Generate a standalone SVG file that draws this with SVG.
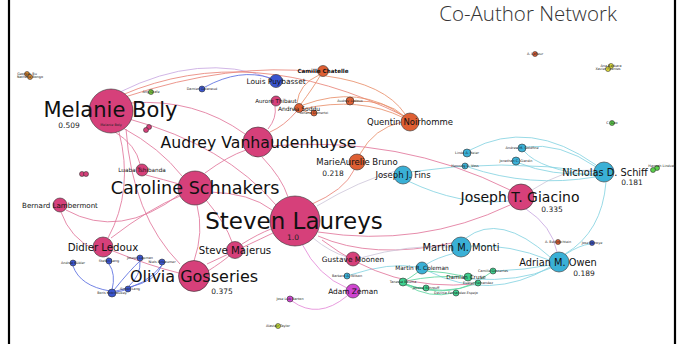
<svg xmlns="http://www.w3.org/2000/svg" width="682" height="344" viewBox="0 0 682 344">
<style>
.e{fill:none;stroke-width:0.85}
.pp{stroke:#e2779c}
.po{stroke:#e88479}
.oo{stroke:#e9906c}
.bb{stroke:#5a6ee0}
.cc{stroke:#86d3e2}
.pc{stroke:#cfc8da}
.gg{stroke:#5fd6a0}
.pm{stroke:#e48ad8}
.lv{stroke:#c9a9e2}
.n{stroke:#333;stroke-width:0.6}
.pk{fill:#d6407a}
.or{fill:#de5f33}
.cy{fill:#3ab0d6}
.bl{fill:#3a55d0}
.gt{fill:#3ecf8e}
.gb{fill:#5ad14a}
.mg{fill:#cf45d0}
.ye{fill:#e6e23c}
.yg{fill:#c7d93a}
.gs{fill:#7acc3e}
.ob{fill:#e08a30}
text{font-family:"DejaVu Sans",Verdana,sans-serif;fill:#111;text-anchor:middle}
.t{font-size:3.4px;fill:#222}
.v{font-size:7.5px;fill:#222}
</style>
<rect width="682" height="344" fill="#fff"/>
<line x1="9" y1="0" x2="9" y2="344" stroke="#000" stroke-width="2.2"/>
<line x1="675" y1="0" x2="675" y2="344" stroke="#000" stroke-width="2.2"/>
<text x="528" y="21" style="font-family:'Open Sans','Liberation Sans',sans-serif;font-size:20.5px;font-weight:300;fill:#333">Co-Author Network</text>

<g id="edges">
<path class="e lv" d="M120,92 Q200,52 270,78"/>
<path class="e po" d="M122,95 Q250,40 404,116"/>
<path class="e po" d="M125,97 Q230,62 318,72"/>
<path class="e pp" d="M131,103 Q195,98 245,134"/>
<path class="e pp" d="M129,119 Q225,145 276,205"/>
<path class="e pp" d="M123,128 Q160,148 182,176"/>
<path class="e pp" d="M115,132 Q136,145 140,164"/>
<path class="e pp" d="M119,132 Q134,190 108,238"/>
<path class="e pp" d="M126,129 Q132,215 180,264"/>
<path class="e pp" d="M210,192 Q250,193 272,210"/>
<path class="e pp" d="M205,173 Q228,156 246,150"/>
<path class="e pp" d="M262,157 Q282,178 288,197"/>
<path class="e pp" d="M207,264 Q250,244 273,233"/>
<path class="e pp" d="M242,244 Q258,234 271,229"/>
<path class="e pp" d="M194,261 Q204,232 197,205"/>
<path class="e pp" d="M113,251 Q150,266 179,273"/>
<path class="e pp" d="M111,238 Q150,208 180,196"/>
<path class="e pp" d="M66,210 Q120,240 180,194"/>
<path class="e pp" d="M61,212 Q70,238 95,250"/>
<path class="e pp" d="M146,175 Q165,180 179,184"/>
<path class="e pp" d="M270,146 Q400,135 510,190"/>
<path class="e pp" d="M318,232 Q420,248 510,205"/>
<path class="e pp" d="M318,236 Q372,260 452,243"/>
<path class="e pp" d="M206,200 Q226,224 232,242"/>
<path class="e pp" d="M208,271 Q222,262 229,256"/>
<path class="e pp" d="M275,106 Q277,118 268,129"/>
<path class="e pm" d="M302,244 Q318,276 347,288"/>
<path class="e pm" d="M347,296 Q318,320 292,301"/>
<path class="e pc" d="M313,238 Q330,252 347,257"/>
<path class="e po" d="M310,205 Q345,190 354,170"/>
<path class="e oo" d="M360,154 Q374,128 402,122"/>
<path class="e oo" d="M301,104 Q313,88 320,76"/>
<path class="e oo" d="M297,103 Q299,84 319,75"/>
<path class="e oo" d="M303,105 Q360,84 403,116"/>
<path class="e oo" d="M302,109 Q360,96 404,118"/>
<path class="e oo" d="M353,101 Q387,100 404,116"/>
<path class="e oo" d="M326,76 Q385,84 405,114"/>
<path class="e po" d="M296,112 Q284,126 270,132"/>
<path class="e oo" d="M302,110 Q308,113 311,113"/>
<path class="e bb" d="M205,87 Q240,68 270,78"/>
<path class="e bb" d="M110,291 Q80,286 73,266"/>
<path class="e bb" d="M112,290 Q116,274 109,264"/>
<path class="e bb" d="M114,290 Q130,270 140,261"/>
<path class="e bb" d="M116,291 Q146,286 162,265"/>
<path class="e bb" d="M129,286 Q141,275 140,261"/>
<path class="e bb" d="M116,292 Q122,291 125,290"/>
<path class="e bb" d="M130,287 Q156,281 162,265"/>
<path class="e lv" d="M109,258 Q106,255 104,257"/>
<path class="e pc" d="M317,206 Q360,180 396,171"/>
<path class="e cc" d="M408,181 Q460,206 508,201"/>
<path class="e pc" d="M532,190 Q565,168 594,170"/>
<path class="e cc" d="M596,165 Q530,118 470,150"/>
<path class="e cc" d="M596,167 Q560,142 525,147"/>
<path class="e cc" d="M595,174 Q550,176 519,163"/>
<path class="e cc" d="M595,177 Q530,188 468,167"/>
<path class="e cc" d="M595,172 Q500,158 410,172"/>
<path class="e cc" d="M606,182 Q602,232 565,254"/>
<path class="e cc" d="M524,151 Q540,170 596,176"/>
<path class="e cc" d="M549,260 Q510,244 471,246"/>
<path class="e cc" d="M550,257 Q500,212 466,238"/>
<path class="e cc" d="M550,267 Q490,302 428,271"/>
<path class="e cc" d="M455,253 Q436,258 427,264"/>
<path class="e cc" d="M566,254 Q580,245 590,244"/>
<path class="e lv" d="M526,209 Q552,226 557,252"/>
<path class="e pc" d="M360,258 Q410,244 451,247"/>
<path class="e cc" d="M350,275 Q390,262 417,267"/>
<path class="e gg" d="M406,281 Q435,275 462,277"/>
<path class="e gg" d="M406,284 Q415,289 423,288"/>
<path class="e gg" d="M406,285 Q430,299 453,293"/>
<path class="e gg" d="M406,285 Q445,296 475,284"/>
<path class="e gg" d="M406,284 Q452,302 490,273"/>
<path class="e gg" d="M418,272 Q410,278 406,280"/>
<path class="e gg" d="M427,271 Q445,272 463,276"/>
<path class="e cc" d="M471,279 Q520,282 551,268"/>
<path class="e cc" d="M496,271 Q525,270 550,265"/>
<path class="e pp" d="M322,240 Q390,292 474,284"/>
</g>

<g id="node-tiny-orange-1"><circle class="n ob" cx="27" cy="74" r="2.5"/><circle class="n ob" cx="30" cy="77" r="2.5"/><text class="t" x="27" y="75">Georges Bu</text><text class="t" x="30" y="78">Nathalie Bongo</text></g>
<g id="node-tiny-green-1"><circle class="n gs" cx="151" cy="92" r="2.5"/><text class="t" x="151" y="93">Ang Grafe</text></g>
<g id="node-damien"><circle class="n bl" cx="202" cy="89" r="3"/><text class="t" x="202" y="90">Damien Galanaud</text></g>
<g id="node-tiny-orange-2"><circle class="n or" cx="535" cy="54" r="2.5"/><text class="t" x="535" y="55">A. Lafleur</text></g>
<g id="node-tiny-yellow"><circle class="n ye" cx="611" cy="66" r="2.5"/><circle class="n ye" cx="608" cy="69" r="2.5"/><text class="t" x="611" y="67">Ana Barbara</text><text class="t" x="608" y="70">Xavier Fuentes</text></g>
<g id="node-tiny-green-2"><circle class="n gb" cx="612" cy="123" r="2.5"/><text class="t" x="612" y="124">C. Gao</text></g>
<g id="node-tiny-green-3"><circle class="n gb" cx="657" cy="168" r="2.5"/><circle class="n gb" cx="653" cy="170" r="2.5"/><text class="t" x="662" y="167">Hannah Lindvall</text></g>
<g id="node-tiny-pink-1"><circle class="n pk" cx="149" cy="127" r="2.5"/><circle class="n pk" cx="146" cy="130" r="2.5"/></g>
<g id="node-tiny-pink-2"><circle class="n pk" cx="82" cy="174" r="2.5"/><circle class="n pk" cx="86" cy="174" r="2.5"/></g>
<g id="node-demertzi"><circle class="n or" cx="314" cy="113" r="3"/><text class="t" x="314" y="114">Athena Demertzi</text></g>
<g id="node-ledoux-a"><circle class="n or" cx="350" cy="101" r="4"/><text class="t" x="350" y="102">Audrey Ledoux</text></g>
<g id="node-soddu"><circle class="n or" cx="299" cy="108" r="4.5"/><text x="299" y="111" style="font-size:6px">Andrea Soddu</text></g>
<g id="node-camille"><circle class="n or" cx="323" cy="71" r="5.5"/><text x="323" y="73" style="font-size:5.6px;font-weight:bold">Camille Chatelle</text></g>
<g id="node-puybasset"><circle class="n bl" cx="276" cy="81" r="6.5"/><text x="276" y="84" style="font-size:7.4px">Louis Puybasset</text></g>
<g id="node-thibaut"><circle class="n pk" cx="276" cy="101" r="5"/><text x="276" y="103" style="font-size:5.6px">Aurore Thibaut</text></g>
<g id="node-linda"><circle class="n cy" cx="467" cy="153" r="4"/><text class="t" x="467" y="154">Linda A. Heier</text></g>
<g id="node-henning"><circle class="n cy" cx="465" cy="166" r="3"/><text class="t" x="465" y="167">Henning U. Voss</text></g>
<g id="node-goldfine"><circle class="n cy" cx="522" cy="148" r="4"/><text class="t" x="522" y="149">Andrew M. Goldfine</text></g>
<g id="node-jonathan"><circle class="n cy" cx="516" cy="161" r="4"/><text class="t" x="516" y="162">Jonathan C. Giardin</text></g>
<g id="node-blue-1"><circle class="n bl" cx="73" cy="263" r="3"/><text class="t" x="73" y="264">Andrea Kübler</text></g>
<g id="node-blue-2"><circle class="n bl" cx="109" cy="261" r="3"/><text class="t" x="109" y="262">Stefan Lang</text></g>
<g id="node-blue-3"><circle class="n bl" cx="140" cy="258" r="3"/><text class="t" x="140" y="259">Joseph Lapman</text></g>
<g id="node-blue-4"><circle class="n bl" cx="162" cy="262" r="3"/><text class="t" x="162" y="263">Niels Birbaumer</text></g>
<g id="node-blue-5"><circle class="n bl" cx="128" cy="289" r="3"/><text class="t" x="130" y="290">Simon Lang</text></g>
<g id="node-blue-6"><circle class="n bl" cx="112" cy="293" r="4"/><text class="t" x="112" y="294">Boris Kotchoubey</text></g>
<g id="node-barbara"><circle class="n cy" cx="347" cy="276" r="3"/><text class="t" x="347" y="277">Barbara A. Wilson</text></g>
<g id="node-jose"><circle class="n mg" cx="290" cy="299" r="3"/><text class="t" x="290" y="300">Jose Luis Barton</text></g>
<g id="node-taylor"><circle class="n yg" cx="278" cy="326" r="2.5"/><text class="t" x="278" y="327">Alastair Taylor</text></g>
<g id="node-tanessa"><circle class="n gt" cx="403" cy="282" r="4"/><text class="t" x="403" y="283">Tanessa Bouma</text></g>
<g id="node-green-a"><circle class="n gt" cx="426" cy="288" r="3"/><text class="t" x="426" y="289">Jessica Schrouff</text></g>
<g id="node-green-b"><circle class="n gt" cx="456" cy="293" r="3"/><text class="t" x="456" y="294">Davinia Fernandez-Espejo</text></g>
<g id="node-green-c"><circle class="n gt" cx="478" cy="283" r="3"/><text class="t" x="478" y="284">Evelyn Fernandez</text></g>
<g id="node-green-d"><circle class="n gt" cx="493" cy="271" r="3"/><text class="t" x="493" y="272">Camille Gosseries</text></g>
<g id="node-cruse"><circle class="n gt" cx="468" cy="277" r="4"/><text x="466" y="279" style="font-size:5.6px">Damian Cruse</text></g>
<g id="node-tiny-orange-3"><circle class="n or" cx="558" cy="242" r="2.5"/><text class="t" x="558" y="243">A. Bekinschtein</text></g>
<g id="node-tiny-blue"><circle class="n bl" cx="592" cy="243" r="2.5"/><text class="t" x="592" y="244">Jose Vanoye</text></g>
<g id="node-coleman"><circle class="n cy" cx="422" cy="268" r="6"/><text x="422" y="270" style="font-size:5.8px">Martin R. Coleman</text></g>
<g id="node-luaba"><circle class="n pk" cx="142" cy="170" r="6"/><text x="142" y="172" style="font-size:5.7px">Luaba Tshibanda</text></g>
<g id="node-bernard"><circle class="n pk" cx="60" cy="205" r="7"/><text x="60" y="208" style="font-size:7.1px">Bernard Lambermont</text></g>
<g id="node-gustave"><circle class="n pk" cx="353" cy="259" r="7"/><text x="353" y="262" style="font-size:7.4px">Gustave Moonen</text></g>
<g id="node-zeman"><circle class="n mg" cx="353" cy="291" r="7"/><text x="353" y="294" style="font-size:7.4px">Adam Zeman</text></g>
<g id="node-bruno"><circle class="n or" cx="357" cy="162" r="8"/><text x="357" y="165" style="font-size:8.5px">MarieAurelie Bruno</text><text class="v" x="333" y="176">0.218</text></g>
<g id="node-fins"><circle class="n cy" cx="403" cy="175" r="9"/><text x="403" y="178" style="font-size:8.5px">Joseph J. Fins</text></g>
<g id="node-quentin"><circle class="n or" cx="410" cy="122" r="9"/><text x="410" y="125" style="font-size:8.5px">Quentin Noirhomme</text></g>
<g id="node-majerus"><circle class="n pk" cx="235" cy="250" r="8.5"/><text x="235" y="254" style="font-size:10.2px">Steve Majerus</text></g>
<g id="node-didier"><circle class="n pk" cx="103" cy="247" r="10"/><text x="103" y="251" style="font-size:10.2px">Didier Ledoux</text></g>
<g id="node-monti"><circle class="n cy" cx="461" cy="247" r="10"/><text x="461" y="251" style="font-size:9.9px">Martin M. Monti</text></g>
<g id="node-owen"><circle class="n cy" cx="559" cy="262" r="10"/><text x="558" y="265.5" style="font-size:9.8px">Adrian M. Owen</text><text class="v" x="584" y="276">0.189</text></g>
<g id="node-schiff"><circle class="n cy" cx="604" cy="172" r="10"/><text x="605" y="175.5" style="font-size:9.8px">Nicholas D. Schiff</text><text class="v" x="632" y="185">0.181</text></g>
<g id="node-giacino"><circle class="n pk" cx="521" cy="197" r="13"/><text x="520" y="202" style="font-size:14px">Joseph T. Giacino</text><text class="v" x="552" y="212">0.335</text></g>
<g id="node-olivia"><circle class="n pk" cx="194" cy="276" r="15.5"/><text x="194" y="281.5" style="font-size:16px">Olivia Gosseries</text><text class="v" x="222" y="294">0.375</text></g>
<g id="node-audrey"><circle class="n pk" cx="258" cy="142" r="15"/><text x="258.5" y="147.5" style="font-size:15.7px">Audrey Vanhaudenhuyse</text></g>
<g id="node-caroline"><circle class="n pk" cx="195" cy="188" r="17"/><text x="195" y="194" style="font-size:17.6px">Caroline Schnakers</text></g>
<g id="node-boly"><circle class="n pk" cx="111" cy="111" r="22"/><text class="t" x="111" y="125.5">Melanie Boly</text><text x="110.5" y="117" style="font-size:21px">Melanie Boly</text><text class="v" x="69" y="128">0.509</text></g>
<g id="node-laureys"><circle class="n pk" cx="295" cy="221" r="25"/><text x="294" y="229" style="font-size:23px">Steven Laureys</text><text class="v" x="293" y="240">1.0</text></g>
</svg>
